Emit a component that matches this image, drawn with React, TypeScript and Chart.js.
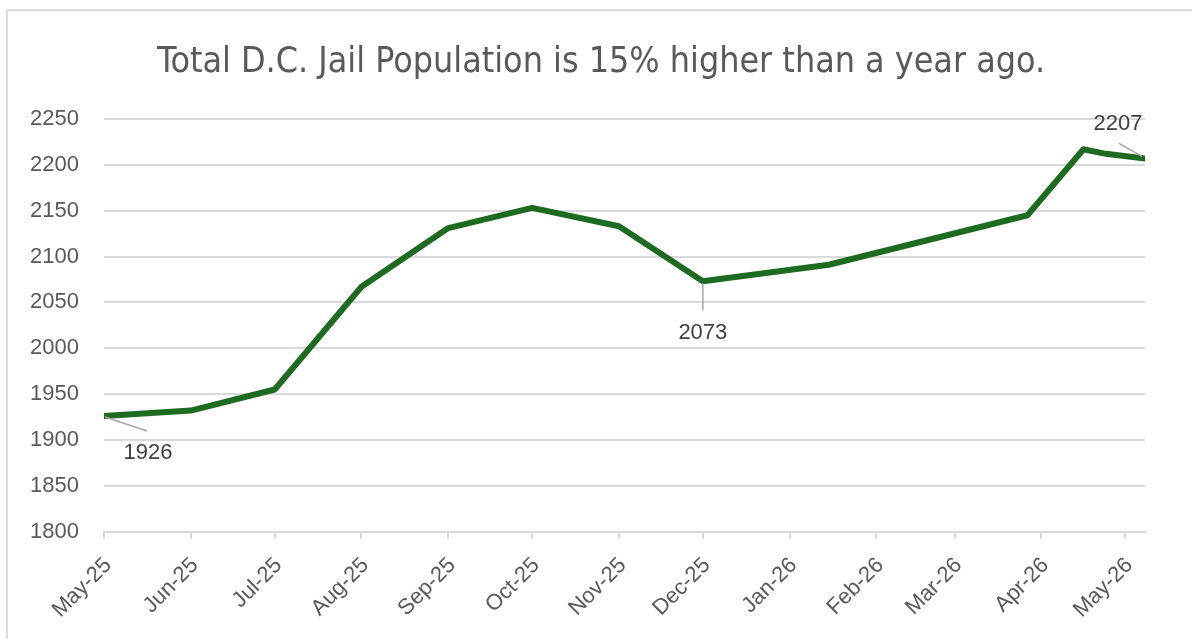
import React, { useEffect, useRef } from "react";
import { Chart, registerables } from "chart.js";

Chart.register(...registerables);

const titleText = "Total D.C. Jail Population is 15% higher than a year ago.";
const pointDates = [
  "2025-05-01", "2025-06-01", "2025-07-01", "2025-08-01", "2025-09-01",
  "2025-10-01", "2025-11-01", "2025-12-01", "2026-01-15", "2026-03-27",
  "2026-04-16", "2026-04-24", "2026-05-08",
];
const population = [1926, 1932, 1955, 2067, 2131, 2153, 2133, 2073, 2091, 2145, 2217, 2212, 2207];
const tickDates = [
  "2025-05-01", "2025-06-01", "2025-07-01", "2025-08-01", "2025-09-01", "2025-10-01",
  "2025-11-01", "2025-12-01", "2026-01-01", "2026-02-01", "2026-03-01", "2026-04-01", "2026-05-01",
];
const tickLabels = [
  "May-25", "Jun-25", "Jul-25", "Aug-25", "Sep-25", "Oct-25",
  "Nov-25", "Dec-25", "Jan-26", "Feb-26", "Mar-26", "Apr-26", "May-26",
];
const labelledIndices = [0, 7, 12];
const yMin = 1800;
const yMax = 2250;
const yStep = 50;

const originDate = "2025-05-01";
function dayOf(s: string): number {
  const [y, m, d] = s.split("-").map(Number);
  const [oy, om, od] = originDate.split("-").map(Number);
  return (Date.UTC(y, m - 1, d) - Date.UTC(oy, om - 1, od)) / 86400000;
}

// label placement styles (pixel offsets relative to point)
const labelStyles: Record<number, { tx: number; ty: number; l1: [number, number]; l2: [number, number] }> = {
  0: { tx: 44, ty: 37, l1: [1, 1], l2: [43, 15] },
  7: { tx: 0, ty: 52, l1: [0, 2], l2: [0, 29] },
  12: { tx: -27, ty: -34, l1: [-26, -15], l2: [-3, -2] },
};

const titlePlugin = {
  id: "chartTitle",
  afterDraw(chart: any) {
    const ctx = chart.ctx;
    ctx.save();
    ctx.fillStyle = "#595959";
    ctx.font = '35.5px "DejaVu Sans Condensed", "Liberation Sans", sans-serif';
    ctx.textAlign = "center";
    ctx.textBaseline = "alphabetic";
    ctx.fillText(titleText, 601, 72);
    ctx.restore();
  },
};

const dataLabelPlugin = {
  id: "dataLabels",
  afterDatasetsDraw(chart: any) {
    const ctx = chart.ctx;
    const meta = chart.getDatasetMeta(0);
    ctx.save();
    labelledIndices.forEach((i) => {
      const el = meta.data[i];
      const st = labelStyles[i];
      if (!el || !st) return;
      const x = el.x;
      const y = el.y;
      ctx.strokeStyle = "#a6a6a6";
      ctx.lineWidth = 1.5;
      ctx.beginPath();
      ctx.moveTo(x + st.l1[0], y + st.l1[1]);
      ctx.lineTo(x + st.l2[0], y + st.l2[1]);
      ctx.stroke();
      ctx.fillStyle = "#404040";
      ctx.font = '22px "Liberation Sans", Arial, sans-serif';
      ctx.textAlign = "center";
      ctx.textBaseline = "middle";
      ctx.fillText(String(population[i]), x + st.tx, y + st.ty);
    });
    ctx.restore();
  },
};

export default function App() {
  const ref = useRef<HTMLCanvasElement>(null);
  useEffect(() => {
    if (!ref.current) return;
    const points = pointDates.map((d, i) => ({ x: dayOf(d), y: population[i] }));
    const chart = new Chart(ref.current, {
      type: "line",
      data: {
        datasets: [
          {
            label: "Total D.C. Jail Population",
            data: points,
            borderColor: "#1d6b21",
            backgroundColor: "#1d6b21",
            borderWidth: 6,
            pointRadius: 0,
            tension: 0,
            borderJoinStyle: "round",
            borderCapStyle: "round",
          },
        ],
      },
      options: {
        responsive: false,
        animation: false,
        layout: { padding: { left: 0, right: 47, top: 119, bottom: 0 } },
        plugins: {
          legend: { display: false },
          tooltip: { enabled: false },
          title: { display: false },
        },
        scales: {
          x: {
            type: "linear",
            min: dayOf(pointDates[0]),
            max: dayOf(pointDates[pointDates.length - 1]),
            afterBuildTicks: (scale: any) => {
              scale.ticks = tickDates.map((d) => ({ value: dayOf(d) }));
            },
            afterFit: (scale: any) => {
              scale.height = 107.4;
            },
            ticks: {
              autoSkip: false,
              maxRotation: 45,
              minRotation: 45,
              color: "#595959",
              padding: 14,
              labelOffset: 4,
              font: { family: '"Liberation Sans", Arial, sans-serif', size: 22 },
              callback: (_v: any, i: number) => tickLabels[i],
            },
            grid: { drawOnChartArea: false, drawTicks: true, tickLength: 7, color: "#d9d9d9", lineWidth: 2 },
            border: { display: true, color: "#d9d9d9", width: 2 },
          },
          y: {
            min: yMin,
            max: yMax,
            afterFit: (scale: any) => {
              scale.width = 104;
            },
            ticks: {
              stepSize: yStep,
              color: "#595959",
              padding: 25,
              font: { family: '"Liberation Sans", Arial, sans-serif', size: 22 },
              callback: (v: any) => String(v),
            },
            grid: { color: "#d9d9d9", lineWidth: 2, drawTicks: false },
            border: { display: false },
          },
        },
      },
      plugins: [dataLabelPlugin, titlePlugin],
    });
    return () => chart.destroy();
  }, []);

  return (
    <div style={{ position: "fixed", left: 0, top: 0, width: 1192, height: 639, background: "#fff", overflow: "hidden" }}>
      <div
        style={{
          position: "absolute",
          left: 6,
          top: 9,
          width: 1300,
          height: 800,
          borderTop: "2px solid #dcdcdc",
          borderLeft: "2px solid #dcdcdc",
        }}
      />
      <canvas ref={ref} width={1192} height={639} style={{ position: "absolute", left: 0, top: 0 }} />
    </div>
  );
}
